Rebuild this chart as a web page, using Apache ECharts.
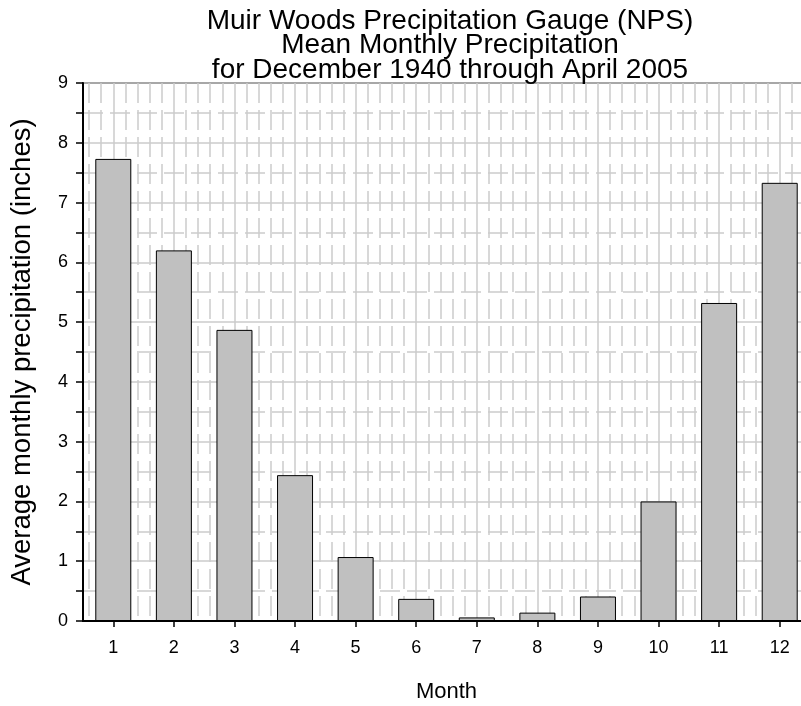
<!DOCTYPE html>
<html>
<head>
<meta charset="utf-8">
<script src="https://cdn.jsdelivr.net/npm/echarts@6/dist/echarts.min.js"></script>
<style>
  html, body { margin: 0; padding: 0; background: #ffffff; }
  #chart { width: 801px; height: 706px; }
</style>
</head>
<body>
<div id="chart"></div>
<script>
// Mean monthly precipitation at the Muir Woods gauge (inches)
const months = ['1', '2', '3', '4', '5', '6', '7', '8', '9', '10', '11', '12'];
const precipitation = [7.73, 6.2, 4.87, 2.44, 1.07, 0.37, 0.06, 0.14, 0.41, 2.0, 5.32, 7.33];
const yTicks = [0, 1, 2, 3, 4, 5, 6, 7, 8, 9];

const titleLines = [
  'Muir Woods Precipitation Gauge (NPS)',
  'Mean Monthly Precipitation',
  'for December 1940 through April 2005'
];

const FONT = '"Liberation Sans", Arial, sans-serif';
const GRID_COLOR = '#cbcbcb';
const DASH = [20, 7];

const chart = echarts.init(document.getElementById('chart'), null, { renderer: 'canvas' });

chart.setOption({
  animation: false,
  backgroundColor: '#ffffff',
  title: {
    text: titleLines.join('\n'),
    left: 445,
    top: 4,
    textAlign: 'center',
    textStyle: {
      fontFamily: FONT,
      fontSize: 28,
      fontWeight: 'normal',
      lineHeight: 24.5,
      color: '#000'
    }
  },
  grid: {
    left: 83,
    top: 83,
    width: 727,
    height: 538,
    outerBoundsMode: 'none',
    containLabel: false,
    show: true,
    borderColor: '#000',
    borderWidth: 1.5,
    backgroundColor: 'transparent'
  },
  xAxis: [
    {
      // month categories carrying the bars
      type: 'category',
      data: months,
      position: 'bottom',
      boundaryGap: true,
      name: 'Month',
      nameLocation: 'middle',
      nameGap: 60,
      nameTextStyle: { fontFamily: FONT, fontSize: 22, color: '#000' },
      axisLine: { show: true, lineStyle: { color: '#000', width: 2 } },
      axisTick: { show: true, alignWithLabel: true, inside: false, length: 6, lineStyle: { color: '#000', width: 1.5 } },
      axisLabel: { fontFamily: FONT, fontSize: 18, color: '#000', margin: 18 },
      splitLine: { show: false },
      z: 5
    },
    {
      // companion value scale: solid lines through each month, dashed fifths between
      type: 'value',
      min: 0.5,
      max: 12.5,
      splitNumber: 12,
      position: 'bottom',
      axisLine: { show: false },
      axisTick: { show: false },
      axisLabel: { show: false },
      splitLine: { show: true, lineStyle: { color: GRID_COLOR, width: 1.5 } },
      minorTick: { show: false, splitNumber: 5 },
      minorSplitLine: { show: true, lineStyle: { color: GRID_COLOR, width: 1.5, type: DASH } },
      z: 0
    }
  ],
  yAxis: {
    type: 'value',
    min: yTicks[0],
    max: yTicks[yTicks.length - 1],
    interval: 1,
    name: 'Average monthly precipitation (inches)',
    nameLocation: 'middle',
    nameGap: 47,
    nameTextStyle: { fontFamily: FONT, fontSize: 27.5, color: '#000' },
    axisLine: { show: true, lineStyle: { color: '#000', width: 2 } },
    axisTick: { show: true, inside: false, length: 7, lineStyle: { color: '#000', width: 1.5 } },
    minorTick: { show: true, splitNumber: 2, length: 7, lineStyle: { color: '#000', width: 1.5 } },
    axisLabel: { fontFamily: FONT, fontSize: 18, color: '#000', margin: 15 },
    splitLine: { show: true, lineStyle: { color: GRID_COLOR, width: 1.5 } },
    minorSplitLine: { show: true, lineStyle: { color: GRID_COLOR, width: 1.5, type: DASH } }
  },
  series: [
    {
      type: 'bar',
      xAxisIndex: 0,
      yAxisIndex: 0,
      data: precipitation,
      barWidth: 36,
      itemStyle: { color: '#c0c0c0', borderColor: '#000', borderWidth: 1 },
      z: 3
    }
  ]
});
</script>
</body>
</html>
